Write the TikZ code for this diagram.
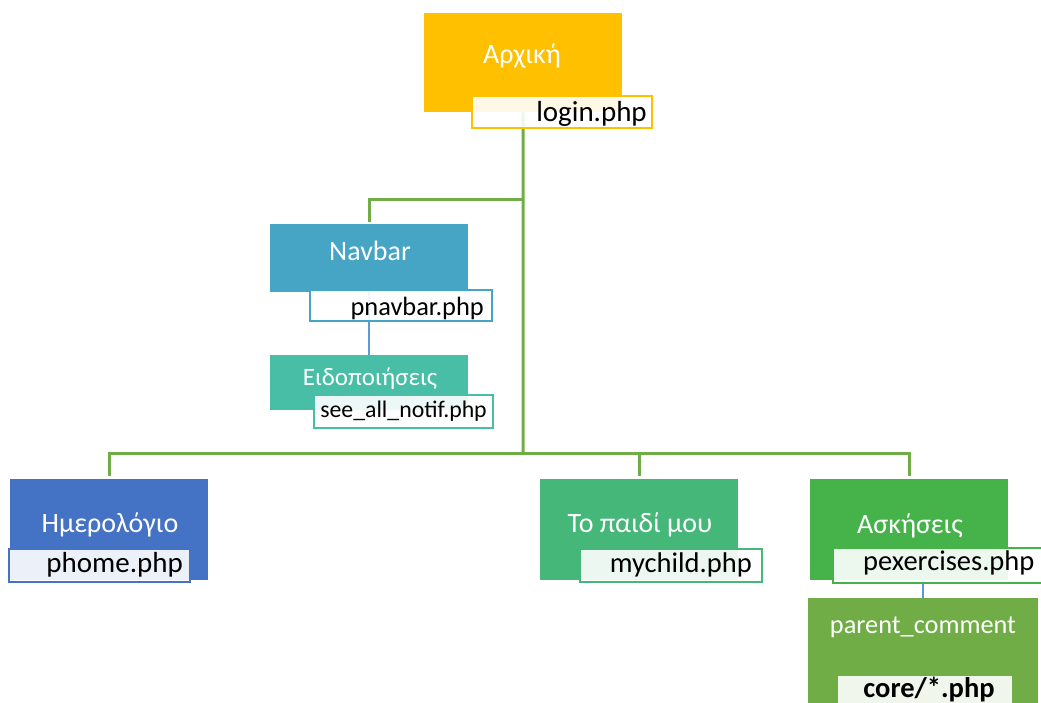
\documentclass[tikz,border=0pt]{standalone}
\usepackage{fontspec}
\setmainfont{Carlito}
\begin{document}
\begin{tikzpicture}[x=1pt,y=-1pt,
  mainbox/.style={draw=none,inner sep=0,anchor=north west},
  lblbox/.style={draw=#1,line width=2pt,fill=white,fill opacity=0.9,inner sep=0,anchor=north west},
  ttl/.style={text=white,inner sep=0,anchor=base,font=\fontsize{28}{32}\selectfont},
  lbl/.style={text=black,inner sep=0,anchor=base east,font=\fontsize{28}{32}\selectfont},
  gline/.style={draw=cG,line width=3pt},
  bline/.style={draw=cB,line width=2.5pt}]
\definecolor{cY}{HTML}{FFC000}
\definecolor{cNav}{HTML}{46A5C5}
\definecolor{cNot}{HTML}{47BEA5}
\definecolor{cHm}{HTML}{4472C4}
\definecolor{cPm}{HTML}{45B779}
\definecolor{cAsk}{HTML}{46B24A}
\definecolor{cPc}{HTML}{70AD47}
\definecolor{cG}{HTML}{70AD47}
\definecolor{cB}{HTML}{5B9BD5}
\useasboundingbox (0,0) rectangle (1041,702);
\clip (0,0) rectangle (1041,702);
% main boxes
\node[mainbox,fill=cY,minimum width=198pt,minimum height=99pt] (arx) at (424,13) {};
\node[mainbox,fill=cNav,minimum width=198pt,minimum height=68pt] (nav) at (270,224) {};
\node[mainbox,fill=cNot,minimum width=198pt,minimum height=55pt] (not) at (270,355) {};
\node[mainbox,fill=cHm,minimum width=198pt,minimum height=101pt] (hm) at (10,479) {};
\node[mainbox,fill=cPm,minimum width=198pt,minimum height=101pt] (pm) at (540,479) {};
\node[mainbox,fill=cAsk,minimum width=198pt,minimum height=101pt] (ask) at (810,479) {};
\node[mainbox,fill=cPc,minimum width=230pt,minimum height=110pt] (pc) at (808,598) {};
% connectors
\coordinate (t1) at (523,199);
\coordinate (t2) at (523,453);
\draw[gline] (arx.south) -- (t2);
\draw[gline,shorten <=2pt] (nav.north) |- (t1);
\draw[gline,shorten <=3pt] (hm.north) |- (t2);
\draw[gline,shorten <=3pt] (ask.north) |- (t2);
\draw[gline,shorten <=3pt] (pm.north) -- (pm.north |- t2);
\draw[bline] (nav.south) -- (not.north);
\draw[bline] (pc.north |- ask.south) -- (pc.north);
% label boxes
\node[lblbox=cY,minimum width=180pt,minimum height=32pt] (arxL) at (471,95) {};
\node[lblbox=cNav,minimum width=182pt,minimum height=31pt] (navL) at (309,289) {};
\node[lblbox=cNot,minimum width=179pt,minimum height=33pt] (notL) at (313,394) {};
\node[lblbox=cHm,minimum width=181pt,minimum height=33pt] (hmL) at (8,548) {};
\node[lblbox=cPm,minimum width=182pt,minimum height=33pt] (pmL) at (579,548) {};
\node[lblbox=cAsk,minimum width=230pt,minimum height=35pt] (askL) at (832,547) {};
\node[lblbox=cPc,minimum width=176pt,minimum height=40pt] (pcL) at (836,674) {};
% titles
\node[ttl] (arxT) at (522,63) {Αρχική};
\node[ttl] (navT) at (370,260) {Navbar};
\node[ttl,font=\fontsize{25}{30}\selectfont] (notT) at (370,385) {Ειδοποιήσεις};
\node[ttl] (hmT) at (110,532) {Ημερολόγιο};
\node[ttl] (pmT) at (640,532) {Το παιδί μου};
\node[ttl] (askT) at (910,533) {Ασκήσεις};
\node[ttl,font=\fontsize{26.3}{30}\selectfont] (pcT) at (923,633) {parent\_comment};
% label texts
\node[lbl,font=\fontsize{29}{32}\selectfont] (arxX) at (647,121) {login.php};
\node[lbl,font=\fontsize{26.4}{30}\selectfont] (navX) at (484,315) {pnavbar.php};
\node[lbl,font=\fontsize{23.8}{28}\selectfont] (notX) at (487,417) {see\_all\_notif.php};
\node[lbl,font=\fontsize{29}{32}\selectfont] (hmX) at (183,572) {phome.php};
\node[lbl,font=\fontsize{28.5}{32}\selectfont] (pmX) at (752,572) {mychild.php};
\node[lbl,anchor=base west,font=\fontsize{28.5}{32}\selectfont] (askX) at (863,570) {pexercises.php};
\node[lbl,anchor=base,font=\fontsize{28.5}{32}\selectfont\bfseries] (pcX) at (929,697) {core/*.php};
\end{tikzpicture}
\end{document}
